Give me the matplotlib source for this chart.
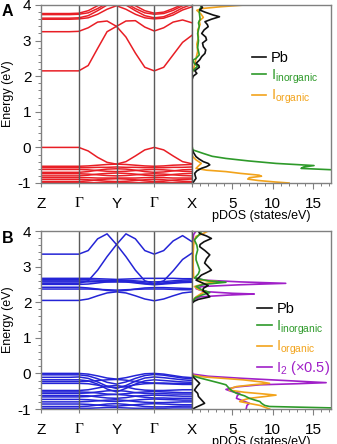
import numpy as np
import matplotlib
matplotlib.use("Agg")
import matplotlib.pyplot as plt
from matplotlib.lines import Line2D
from matplotlib.ticker import MultipleLocator

plt.rcParams['font.family'] = ['Liberation Sans', 'DejaVu Sans']
plt.rcParams['mathtext.fontset'] = 'custom'
plt.rcParams['mathtext.rm'] = 'Liberation Sans'
plt.rcParams['mathtext.it'] = 'Liberation Sans:italic'

# k-path: Z, G, Y, G, X  (17 samples, every quarter segment)
K = np.linspace(0, 4, 17)
KPOINT_LABELS = ["Z", "Γ", "Y", "Γ", "X"]

# ---- panel A bands (eV) ----
BANDS_A = [
    [2.15, 2.15, 2.15, 2.15, 2.15, 2.30, 2.78, 3.25, 3.40, 3.10, 2.65, 2.25, 2.15, 2.25, 2.60, 2.95, 3.15],
    [3.25, 3.25, 3.25, 3.25, 3.26, 3.36, 3.52, 3.55, 3.40, 3.55, 3.56, 3.38, 3.27, 3.36, 3.52, 3.58, 3.50],
    [3.60, 3.60, 3.60, 3.60, 3.61, 3.64, 3.74, 3.88, 3.98, 3.88, 3.74, 3.64, 3.61, 3.63, 3.72, 3.86, 3.95],
    [3.63, 3.63, 3.63, 3.63, 3.64, 3.70, 3.84, 4.00, 4.10, 4.00, 3.84, 3.70, 3.64, 3.67, 3.78, 3.92, 4.02],
    [3.73, 3.73, 3.73, 3.73, 3.74, 3.78, 3.90, 4.05, 4.15, 4.05, 3.90, 3.78, 3.74, 3.76, 3.85, 3.98, 4.08],
    [3.76, 3.76, 3.76, 3.76, 3.77, 3.84, 3.98, 4.12, 4.20, 4.12, 3.98, 3.84, 3.77, 3.80, 3.90, 4.02, 4.10],
    [0.00, 0.00, 0.00, 0.00, 0.00, -0.10, -0.28, -0.42, -0.47, -0.40, -0.24, -0.07, 0.00, -0.07, -0.24, -0.40, -0.46],
    [-0.53, -0.53, -0.53, -0.53, -0.53, -0.52, -0.50, -0.48, -0.47, -0.48, -0.50, -0.52, -0.53, -0.52, -0.50, -0.49, -0.48],
    [-0.57, -0.57, -0.57, -0.57, -0.57, -0.57, -0.56, -0.56, -0.55, -0.56, -0.56, -0.57, -0.57, -0.57, -0.56, -0.56, -0.55],
    [-0.62, -0.62, -0.62, -0.62, -0.62, -0.63, -0.65, -0.67, -0.68, -0.67, -0.65, -0.63, -0.62, -0.63, -0.65, -0.67, -0.68],
    [-0.70, -0.70, -0.70, -0.70, -0.70, -0.68, -0.64, -0.61, -0.60, -0.61, -0.64, -0.68, -0.70, -0.69, -0.66, -0.63, -0.62],
    [-0.74, -0.74, -0.74, -0.74, -0.74, -0.75, -0.77, -0.79, -0.80, -0.79, -0.77, -0.75, -0.74, -0.75, -0.77, -0.79, -0.80],
    [-0.80, -0.80, -0.80, -0.80, -0.80, -0.78, -0.75, -0.73, -0.72, -0.73, -0.75, -0.78, -0.80, -0.79, -0.76, -0.74, -0.73],
    [-0.85, -0.85, -0.85, -0.85, -0.85, -0.85, -0.86, -0.86, -0.86, -0.86, -0.86, -0.85, -0.85, -0.85, -0.86, -0.86, -0.86],
    [-0.90, -0.90, -0.90, -0.90, -0.90, -0.91, -0.93, -0.95, -0.96, -0.95, -0.93, -0.91, -0.90, -0.91, -0.93, -0.95, -0.96],
    [-0.96, -0.96, -0.96, -0.96, -0.96, -0.94, -0.91, -0.89, -0.88, -0.89, -0.91, -0.94, -0.96, -0.95, -0.92, -0.90, -0.89],
    [-0.99, -0.99, -0.99, -0.99, -0.99, -0.99, -0.99, -0.98, -0.98, -0.98, -0.99, -0.99, -0.99, -0.99, -0.99, -0.98, -0.98],
]

# ---- panel B bands (eV) ----
BANDS_B = [
    [3.35, 3.35, 3.35, 3.35, 3.35, 3.45, 3.78, 3.92, 3.62, 3.92, 3.78, 3.45, 3.35, 3.45, 3.72, 3.87, 3.70],
    [2.53, 2.53, 2.53, 2.53, 2.53, 2.60, 2.90, 3.28, 3.62, 3.28, 2.90, 2.60, 2.52, 2.60, 2.88, 3.20, 3.38],
    [2.67, 2.67, 2.67, 2.67, 2.67, 2.67, 2.66, 2.65, 2.64, 2.65, 2.66, 2.67, 2.67, 2.67, 2.67, 2.66, 2.66],
    [2.64, 2.64, 2.64, 2.64, 2.64, 2.63, 2.62, 2.61, 2.61, 2.61, 2.60, 2.58, 2.57, 2.58, 2.60, 2.62, 2.63],
    [2.60, 2.60, 2.60, 2.60, 2.60, 2.59, 2.58, 2.57, 2.57, 2.57, 2.56, 2.54, 2.52, 2.54, 2.56, 2.58, 2.59],
    [2.57, 2.57, 2.57, 2.57, 2.57, 2.57, 2.58, 2.59, 2.60, 2.59, 2.57, 2.53, 2.50, 2.53, 2.56, 2.58, 2.59],
    [2.50, 2.50, 2.50, 2.50, 2.50, 2.51, 2.54, 2.57, 2.58, 2.57, 2.54, 2.51, 2.49, 2.51, 2.53, 2.55, 2.56],
    [2.42, 2.42, 2.42, 2.42, 2.42, 2.40, 2.37, 2.33, 2.31, 2.33, 2.37, 2.40, 2.41, 2.41, 2.40, 2.39, 2.38],
    [2.37, 2.37, 2.37, 2.37, 2.37, 2.37, 2.36, 2.35, 2.34, 2.35, 2.36, 2.37, 2.37, 2.37, 2.36, 2.35, 2.35],
    [2.05, 2.05, 2.05, 2.05, 2.05, 2.09, 2.18, 2.26, 2.29, 2.26, 2.18, 2.09, 2.04, 2.09, 2.18, 2.26, 2.29],
    [0.00, 0.00, 0.00, 0.00, 0.00, -0.02, -0.07, -0.13, -0.16, -0.12, -0.06, -0.01, 0.00, -0.02, -0.06, -0.10, -0.12],
    [-0.04, -0.04, -0.04, -0.04, -0.04, -0.07, -0.15, -0.25, -0.30, -0.24, -0.14, -0.06, -0.03, -0.05, -0.09, -0.13, -0.15],
    [-0.11, -0.11, -0.11, -0.11, -0.10, -0.14, -0.24, -0.36, -0.42, -0.34, -0.22, -0.13, -0.10, -0.12, -0.15, -0.18, -0.20],
    [-0.18, -0.18, -0.18, -0.18, -0.18, -0.21, -0.30, -0.44, -0.52, -0.42, -0.30, -0.21, -0.18, -0.20, -0.22, -0.24, -0.25],
    [-0.23, -0.23, -0.23, -0.23, -0.23, -0.22, -0.20, -0.18, -0.17, -0.19, -0.23, -0.26, -0.27, -0.27, -0.28, -0.28, -0.28],
    [-0.28, -0.28, -0.28, -0.28, -0.28, -0.29, -0.33, -0.38, -0.40, -0.37, -0.32, -0.29, -0.28, -0.29, -0.30, -0.31, -0.31],
    [-0.48, -0.48, -0.48, -0.48, -0.48, -0.46, -0.41, -0.36, -0.34, -0.38, -0.44, -0.47, -0.48, -0.48, -0.47, -0.46, -0.46],
    [-0.52, -0.52, -0.52, -0.52, -0.52, -0.53, -0.55, -0.58, -0.59, -0.57, -0.54, -0.52, -0.51, -0.52, -0.53, -0.54, -0.54],
    [-0.56, -0.56, -0.56, -0.56, -0.56, -0.55, -0.52, -0.49, -0.48, -0.50, -0.54, -0.56, -0.57, -0.57, -0.58, -0.58, -0.58],
    [-0.62, -0.62, -0.62, -0.62, -0.62, -0.63, -0.66, -0.69, -0.70, -0.68, -0.64, -0.62, -0.61, -0.62, -0.63, -0.64, -0.64],
    [-0.66, -0.66, -0.66, -0.66, -0.66, -0.65, -0.62, -0.60, -0.59, -0.61, -0.64, -0.67, -0.69, -0.69, -0.70, -0.70, -0.70],
    [-0.73, -0.73, -0.73, -0.73, -0.73, -0.74, -0.76, -0.78, -0.79, -0.77, -0.75, -0.73, -0.72, -0.73, -0.74, -0.75, -0.75],
    [-0.80, -0.80, -0.80, -0.80, -0.80, -0.79, -0.77, -0.75, -0.74, -0.76, -0.79, -0.81, -0.82, -0.82, -0.81, -0.80, -0.80],
    [-0.86, -0.86, -0.86, -0.86, -0.86, -0.87, -0.89, -0.91, -0.92, -0.90, -0.88, -0.86, -0.85, -0.86, -0.87, -0.88, -0.88],
    [-0.93, -0.93, -0.93, -0.93, -0.93, -0.92, -0.89, -0.86, -0.85, -0.87, -0.90, -0.93, -0.94, -0.94, -0.93, -0.92, -0.92],
    [-0.98, -0.98, -0.98, -0.98, -0.98, -0.98, -0.97, -0.96, -0.96, -0.97, -0.98, -0.98, -0.98, -0.98, -0.97, -0.97, -0.97],
]

# ---- panel A pDOS: energy (eV) / states per eV ----
PB_A_E = [4.0, 3.93, 3.86, 3.8, 3.72, 3.67, 3.6, 3.53, 3.45, 3.39, 3.3, 3.2, 3.1, 3.02, 2.93, 2.83, 2.74,
          2.64, 2.55, 2.46, 2.36, 2.3, 2.25, 2.2, 2.15, 2.08, 2.0, 1.9, 0.0, -0.07, -0.15, -0.26, -0.33,
          -0.40, -0.45, -0.49, -0.54, -0.59, -0.66, -0.73, -0.80, -0.87, -0.93, -1.0]
PB_A = [1.0, 1.3, 0.95, 1.6, 2.6, 3.4, 2.4, 1.6, 1.9, 2.0, 1.5, 1.2, 1.7, 1.8, 1.3, 1.4, 1.7,
        1.6, 1.2, 0.95, 0.5, 0.85, 0.9, 0.6, 0.35, 0.6, 0.15, 0.0, 0.0, 0.05, 0.2, 0.5, 0.9,
        1.4, 2.0, 2.2, 1.8, 1.15, 0.6, 0.33, 0.4, 0.5, 0.3, 0.1]
IINORG_A_E = [4.0, 3.9, 3.8, 3.6, 3.5, 3.4, 3.2, 3.0, 2.8, 2.6, 2.5, 2.45, 2.35, 2.28, 2.2, 2.15, 2.1,
              0.05, -0.07, -0.17, -0.25, -0.31, -0.38, -0.45, -0.51, -0.55, -0.59, -0.63, -0.7, -1.0]
IINORG_A = [1.3, 1.0, 0.9, 1.0, 0.8, 0.9, 0.7, 0.8, 0.7, 0.9, 0.5, 0.1, 0.3, 0.7, 0.3, 0.1, 0.0,
            0.0, 0.1, 1.4, 2.5, 4.2, 7.0, 10.4, 15.1, 13.8, 13.5, 17.5, 22.0, 22.0]
IORG_A_E = [4.0, 3.95, 3.9, 3.85, 3.75, 3.65, 3.55, 3.45, 3.3, 3.1, 2.9, 2.7, 2.5, 2.3, 2.2, 2.15, 2.1,
            -0.2, -0.26, -0.35, -0.45, -0.52, -0.59, -0.64, -0.68, -0.73, -0.78, -0.81, -0.85, -0.89,
            -0.93, -0.97, -1.0]
IORG_A = [6.5, 3.5, 1.2, 0.6, 1.1, 1.4, 0.9, 1.0, 0.7, 0.8, 0.6, 0.7, 0.5, 0.3, 0.2, 0.1, 0.0,
          0.0, 0.1, 0.5, 1.15, 0.8, 0.5, 1.8, 4.2, 6.0, 8.3, 8.6, 7.1, 6.9, 8.2, 10.2, 12.0]

# ---- panel B pDOS ----
PB_B_E = [4.0, 3.93, 3.86, 3.79, 3.7, 3.62, 3.56, 3.45, 3.33, 3.22, 3.1, 3.0, 2.9, 2.83, 2.76, 2.68,
          2.62, 2.55, 2.47, 2.39, 2.32, 2.25, 2.15, 2.08, 2.03, 1.97, 0.0, -0.09, -0.18, -0.28, -0.37,
          -0.47, -0.56, -0.65, -0.75, -0.84, -0.9, -0.95, -1.0]
PB_B = [0.8, 0.95, 1.8, 2.4, 1.5, 1.0, 0.95, 1.6, 2.2, 1.8, 1.56, 2.0, 2.4, 1.8, 1.15, 0.8,
        0.5, 1.2, 2.0, 1.4, 1.36, 1.8, 2.2, 0.8, 0.3, 0.0, 0.0, 0.1, 0.5, 0.95, 0.6,
        0.3, 0.7, 0.8, 1.2, 1.56, 1.0, 0.5, 0.1]
IINORG_B_E = [4.0, 3.9, 3.75, 3.6, 3.47, 3.3, 3.19, 3.0, 2.9, 2.8, 2.68, 2.6, 2.56, 2.5, 2.44, 2.35,
              2.27, 2.2, 2.12, 2.03, 1.97, 0.0, -0.07, -0.13, -0.2, -0.27, -0.32, -0.37, -0.42, -0.5,
              -0.56, -0.63, -0.7, -0.75, -0.79, -0.84, -0.9, -0.93, -0.97, -1.0]
IINORG_B = [1.2, 0.9, 0.3, 0.6, 0.7, 0.5, 0.5, 0.8, 0.95, 0.8, 0.33, 2.0, 4.2, 1.5, 0.5, 1.2,
            2.2, 1.2, 0.4, 0.1, 0.0, 0.0, 0.1, 1.0, 2.2, 3.4, 4.2, 4.4, 4.6, 5.0,
            5.5, 6.5, 7.1, 7.8, 8.4, 8.6, 9.0, 9.6, 17.5, 18.0]
IORG_B_E = [4.0, 3.93, 3.85, 3.75, 3.6, 3.4, 3.0, 2.7, 2.62, 2.58, 2.52, 2.44, 2.36, 2.3, 2.25, 2.15,
            2.06, 1.97, 0.0, -0.05, -0.1, -0.18, -0.24, -0.28, -0.32, -0.37, -0.42, -0.47, -0.53,
            -0.58, -0.61, -0.65, -0.7, -0.75, -0.79, -0.84, -0.9, -1.0]
IORG_B = [2.0, 1.4, 0.5, 0.3, 0.2, 0.15, 0.15, 0.2, 1.0, 3.2, 1.5, 0.3, 0.8, 1.8, 1.2, 0.5,
          0.1, 0.0, 0.0, 0.1, 1.5, 6.3, 8.6, 9.6, 7.5, 5.5, 4.8, 4.6, 6.5,
          9.0, 10.4, 9.0, 7.1, 6.3, 5.9, 7.0, 8.4, 9.6]
I2_B_E = [4.0, 3.9, 3.7, 3.0, 2.7, 2.62, 2.57, 2.53, 2.49, 2.44, 2.38, 2.3, 2.25, 2.23, 2.2, 2.15,
          2.08, 1.97, 0.05, -0.02, -0.08, -0.14, -0.2, -0.26, -0.29, -0.32, -0.38, -0.45, -0.5,
          -0.56, -0.63, -0.7, -0.77, -0.84, -0.9, -1.0]
I2_B = [0.5, 0.2, 0.1, 0.05, 0.1, 1.5, 6.0, 11.6, 6.0, 1.2, 0.5, 1.5, 5.0, 7.7, 4.5, 1.0,
        0.3, 0.0, 0.0, 0.1, 2.0, 6.3, 11.5, 16.6, 13.0, 8.4, 5.5, 4.2, 4.8,
        5.9, 5.6, 5.5, 6.3, 7.1, 6.8, 6.7]

C_PB, C_INORG, C_ORG, C_I2 = "#111111", "#2e9a2a", "#f2a31b", "#a020c8"
SPINE = "#808080"
FS = 11

W, H = 337, 444
fig = plt.figure(figsize=(W / 100, H / 100), dpi=100)


def frac(x0, y0, x1, y1):
    return [x0 / W, 1 - y1 / H, (x1 - x0) / W, (y1 - y0) / H]


def style_axes(ax):
    for s in ax.spines.values():
        s.set_color(SPINE)
        s.set_linewidth(1.0)
    ax.tick_params(colors=SPINE, labelcolor="black", labelsize=FS, width=0.8)


def band_panel(top, bands, color):
    ax = fig.add_axes(frac(41, top, 192, top + 178))
    for b in bands:
        ax.plot(K, b, color=color, lw=1.1)
    for k in (1, 2, 3):
        ax.axvline(k, color="#5a5a5a", lw=1.0)
    ax.set_xlim(0, 4)
    ax.set_ylim(-1, 4)
    ax.set_xticks(range(5))
    ax.set_xticklabels(KPOINT_LABELS)
    for lab in ax.get_xticklabels():
        if lab.get_text() == "Γ":
            lab.set_fontfamily("Liberation Serif")
    ax.yaxis.set_minor_locator(MultipleLocator(0.2))
    ax.set_yticks([-1, 0, 1, 2, 3, 4])
    ax.set_yticklabels(["-1", "0", "1", "2", "3", "4"])
    style_axes(ax)
    ax.tick_params(axis="y", which="major", length=4, pad=3)
    ax.tick_params(axis="y", which="minor", length=2.5, color=SPINE, width=0.7)
    ax.tick_params(axis="x", length=3, pad=7)
    ax.spines["right"].set_color("#5a5a5a")
    ax.set_ylabel("Energy (eV)", fontsize=9, labelpad=3)
    return ax


def dos_panel(top, curves, handles, anchor):
    ax = fig.add_axes(frac(192, top, 331, top + 178))
    for e, d, c in curves:
        ax.plot(d, e, color=c, lw=1.2)
    ax.set_xlim(0, 17.2)
    ax.set_ylim(-1, 4)
    ax.set_yticks([])
    ax.set_xticks([5, 10, 15])
    ax.xaxis.set_minor_locator(MultipleLocator(1))
    style_axes(ax)
    ax.tick_params(axis="x", which="major", length=4, pad=6)
    ax.tick_params(axis="x", which="minor", length=2.5, color=SPINE, width=0.7)
    ax.spines["left"].set_color("#5a5a5a")
    ax.set_xlabel("pDOS (states/eV)", fontsize=9, labelpad=-1)
    leg = ax.legend(handles=[h for h, _, _ in handles], labels=[l for _, l, _ in handles],
                    loc="upper left", bbox_to_anchor=anchor, frameon=False,
                    fontsize=10.5, handlelength=1.0, handletextpad=0.3,
                    labelspacing=0.15, borderpad=0, borderaxespad=0)
    for txt, (_, _, tc) in zip(leg.get_texts(), handles):
        txt.set_color(tc)
    return ax


band_panel(5, BANDS_A, "#e81e25")
h_pb = Line2D([], [], color=C_PB, lw=1.2)
h_in = Line2D([], [], color=C_INORG, lw=1.2)
h_or = Line2D([], [], color=C_ORG, lw=1.2)
h_i2 = Line2D([], [], color=C_I2, lw=1.2)
dos_panel(5, [(IORG_A_E, IORG_A, C_ORG), (IINORG_A_E, IINORG_A, C_INORG), (PB_A_E, PB_A, C_PB)],
          [(h_pb, "Pb", "black"),
           (h_in, r"I$_{\mathrm{inorganic}}$", C_INORG),
           (h_or, r"I$_{\mathrm{organic}}$", C_ORG)],
          (0.43, 0.74))

band_panel(231, BANDS_B, "#2424d6")
dos_panel(231, [(I2_B_E, I2_B, C_I2), (IORG_B_E, IORG_B, C_ORG), (IINORG_B_E, IINORG_B, C_INORG),
                (PB_B_E, PB_B, C_PB)],
          [(h_pb, "Pb", "black"),
           (h_in, r"I$_{\mathrm{inorganic}}$", C_INORG),
           (h_or, r"I$_{\mathrm{organic}}$", C_ORG),
           (h_i2, r"I$_{2}$ (×0.5)", C_I2)],
          (0.47, 0.6))

fig.text(2 / W, 1 - 12 / H, "A", fontsize=11.5, fontweight="bold", va="center")
fig.text(2 / W, 1 - 238 / H, "B", fontsize=11.5, fontweight="bold", va="center")

fig.savefig("out.png", dpi=100, facecolor="white")
